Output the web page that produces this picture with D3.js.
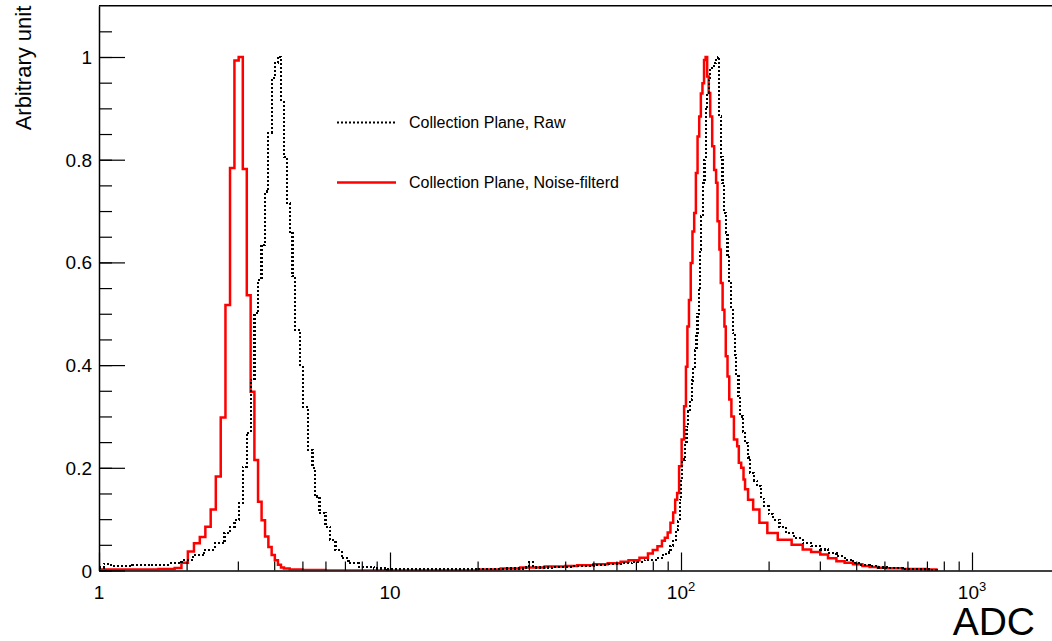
<!DOCTYPE html>
<html>
<head>
<meta charset="utf-8">
<script src="https://cdn.jsdelivr.net/npm/d3@7"></script>
<style>
  body { margin: 0; background: #fff; }
  svg { display: block; font-family: "Liberation Sans", Arial, Helvetica, sans-serif; }
</style>
</head>
<body>
<div class="container"></div>
<script>
// bin lower edges (ADC) and normalised bin contents
// pedestal / noise peak
const rawLowEdges = [1.0,1.04,1.1,1.3,1.5,1.75,1.92,2.1,2.3,2.5,2.7,2.82,2.92,3.02,3.12,3.22,3.32,3.42,3.52,3.62,3.72,3.82,3.92,4.02,4.12,4.22,4.32,4.42,4.52,4.62,4.72,4.92,5.02,5.22,5.42,5.52,5.72,6.0,6.22,6.5,6.82,7.2,7.8,8.8,9.8];
const rawLowValues = [0.006,0.013,0.008,0.01,0.011,0.014,0.02,0.03,0.04,0.053,0.073,0.085,0.098,0.131,0.202,0.268,0.371,0.501,0.566,0.634,0.738,0.852,0.959,0.988,1.0,0.913,0.806,0.716,0.657,0.573,0.468,0.397,0.319,0.235,0.2,0.144,0.112,0.085,0.059,0.04,0.024,0.014,0.007,0.004,0.002];
// signal peak
const rawHighEdges = [20,25,29,30,31,36,42,50,56,62,68,75,82,86,89,92,94,96,97.5,99,100,101,103,104.5,106,107.3,109,110.2,111.5,113,114,115,116,117.5,119,120.5,121.5,123,124.5,126,128,130,132,134,135.5,137,138.8,140.5,142.5,144.5,146.5,148.5,150.5,153,155,157.5,159.5,163,166,170,173,178,183,188,193,200,207,218,230,245,262,280,301,320,342,365,390,415,445,475,508,577,660,720,755];
const rawHighValues = [0.003,0.004,0.006,0.016,0.006,0.007,0.009,0.011,0.012,0.014,0.017,0.02,0.025,0.03,0.035,0.048,0.06,0.08,0.096,0.138,0.18,0.216,0.25,0.28,0.31,0.333,0.37,0.397,0.43,0.462,0.5,0.55,0.625,0.69,0.754,0.8,0.903,0.93,0.955,0.975,0.982,0.988,0.994,1.0,0.884,0.806,0.754,0.696,0.657,0.611,0.56,0.508,0.462,0.42,0.378,0.34,0.3,0.27,0.248,0.22,0.19,0.175,0.164,0.14,0.125,0.11,0.099,0.085,0.073,0.063,0.054,0.047,0.041,0.034,0.028,0.021,0.015,0.011,0.008,0.006,0.0045,0.003,0.002,0.001,0];

const filtLowEdges = [1.0,1.6,1.82,1.92,2.02,2.12,2.22,2.32,2.42,2.52,2.62,2.72,2.82,2.92,3.02,3.12,3.22,3.32,3.42,3.52,3.62,3.72,3.82,3.92,4.02,4.12,4.22,4.32,4.52,5.0,6.0];
const filtLowValues = [0.002,0.003,0.005,0.015,0.037,0.053,0.065,0.085,0.119,0.183,0.298,0.517,0.784,0.993,1.0,0.782,0.536,0.348,0.215,0.134,0.098,0.066,0.046,0.03,0.02,0.011,0.006,0.004,0.002,0.001,0];
const filtHighEdges = [20,24,28,34,40,44,50,56,62,66,72,77,80,83,86,88,90,92,94,95.5,97,98.5,100.5,102.5,104,105.2,106.5,108,109.5,111,112.5,114,115.5,117,118.5,120,121.5,123,124.5,126,128,130,132,133.5,135.5,137,139,141,142.5,144.5,146.5,149,152,156,158,161,164,166,170,177,186,198,215,240,262,280,301,320,342,365,390,420,445,475,508,577,660,700,755];
const filtHighValues = [0.002,0.004,0.006,0.008,0.009,0.01,0.012,0.014,0.017,0.02,0.025,0.033,0.04,0.047,0.058,0.064,0.074,0.093,0.113,0.138,0.151,0.203,0.255,0.32,0.397,0.475,0.527,0.599,0.66,0.696,0.774,0.845,0.884,0.929,0.949,0.994,1.0,0.962,0.93,0.884,0.826,0.78,0.755,0.68,0.625,0.56,0.508,0.475,0.417,0.378,0.333,0.3,0.255,0.242,0.21,0.2,0.177,0.158,0.138,0.119,0.093,0.073,0.06,0.05,0.041,0.036,0.031,0.024,0.018,0.015,0.012,0.009,0.007,0.0055,0.0045,0.003,0.003,0.002,0];

const seriesNames = ["Collection Plane, Raw", "Collection Plane, Noise-filterd"];
const xDomain = [1, 2000];
const xMajor = [1, 10, 100, 1000];
const xLabelBase = ["1", "10", "10", "10"];
const xLabelExp = ["", "", "2", "3"];
const yMajor = [0, 0.2, 0.4, 0.6, 0.8, 1];
const yLabels = ["0", "0.2", "0.4", "0.6", "0.8", "1"];

const width = 1052;
const height = 641;
const plotLeft = 99;
const plotBottom = 570.5;
const decade = 291;
const unitY = 513.5;

const svg = d3.select('.container')
    .append('svg')
    .attr('width', width)
    .attr('height', height);

const x = d3.scaleLog()
    .domain(xDomain)
    .range([plotLeft, plotLeft + decade * Math.log10(xDomain[1])]);
const y = d3.scaleLinear()
    .domain([0, 1.1])
    .range([plotBottom, plotBottom - unitY * 1.1]);

const plotTop = y(1.1);
const plotRight = x(xDomain[1]);

svg.append('clipPath').attr('id', 'plot')
    .append('rect')
    .attr('x', plotLeft).attr('y', plotTop)
    .attr('width', plotRight - plotLeft).attr('height', plotBottom - plotTop);

// histograms
const toPoints = (edges, values) => edges.map((e, i) => [e, values[i]]);
const rawPts = toPoints(rawLowEdges, rawLowValues).concat(toPoints(rawHighEdges, rawHighValues));
const filtPts = toPoints(filtLowEdges, filtLowValues).concat(toPoints(filtHighEdges, filtHighValues));

const step = d3.line()
    .x(d => x(d[0]))
    .y(d => y(d[1]))
    .curve(d3.curveStepAfter);

const hists = svg.append('g').attr('clip-path', 'url(#plot)');
hists.append('path')
    .attr('d', step(filtPts))
    .attr('fill', 'none')
    .attr('stroke', '#ff0000')
    .attr('stroke-width', 2.5);
hists.append('path')
    .attr('d', step(rawPts))
    .attr('fill', 'none')
    .attr('stroke', '#000')
    .attr('stroke-width', 2.2)
    .attr('stroke-dasharray', '2,2')
    .attr('shape-rendering', 'crispEdges');

// x axis
const xMinor = [];
xMajor.forEach(d => { for (let k = 2; k <= 9; k++) if (d * k <= xDomain[1]) xMinor.push(d * k); });

svg.append('g')
    .attr('transform', `translate(0,${plotBottom})`)
    .call(d3.axisBottom(x).tickValues(xMinor).tickSize(-9).tickSizeOuter(0).tickFormat(''))
    .call(g => g.select('.domain').remove());
svg.append('g')
    .attr('transform', `translate(0,${plotBottom})`)
    .call(d3.axisBottom(x).tickValues(xMajor).tickSize(-18).tickSizeOuter(0).tickFormat(''));

const xLab = svg.append('g')
    .selectAll('text')
    .data(xMajor)
    .enter()
    .append('text')
    .attr('x', d => x(d))
    .attr('y', 599)
    .attr('text-anchor', 'middle')
    .attr('font-size', 19);
xLab.append('tspan').text((d, i) => xLabelBase[i]);
xLab.append('tspan')
    .attr('dy', -8)
    .attr('font-size', 13)
    .text((d, i) => xLabelExp[i]);

// y axis
const yMinor = d3.range(0, 1.1, 0.05);
svg.append('g')
    .attr('transform', `translate(${plotLeft},0)`)
    .call(d3.axisLeft(y).tickValues(yMinor).tickSize(-13).tickSizeOuter(0).tickFormat(''))
    .call(g => g.select('.domain').remove());
svg.append('g')
    .attr('transform', `translate(${plotLeft},0)`)
    .call(d3.axisLeft(y).tickValues(yMajor).tickSize(-26).tickSizeOuter(0).tickFormat(''));

svg.append('g')
    .selectAll('text')
    .data(yMajor)
    .enter()
    .append('text')
    .attr('x', 92)
    .attr('y', d => y(d) + 7)
    .attr('text-anchor', 'end')
    .attr('font-size', 19)
    .text((d, i) => yLabels[i]);

// frame top
svg.append('line')
    .attr('class', 'frame')
    .attr('x1', plotLeft).attr('x2', plotRight)
    .attr('y1', plotTop).attr('y2', plotTop)
    .attr('stroke', '#000')
    .attr('stroke-width', 1.5);

svg.selectAll('.domain').attr('stroke-width', 1.5);
svg.selectAll('.tick line').attr('stroke-width', 1.2);

// axis titles
svg.append('text')
    .attr('transform', `translate(31,${plotTop}) rotate(-90)`)
    .attr('text-anchor', 'end')
    .attr('font-size', 22)
    .text('Arbitrary unit');

svg.append('text')
    .attr('x', 1035)
    .attr('y', 635)
    .attr('text-anchor', 'end')
    .attr('font-size', 39)
    .text('ADC');

// legend
const legend = svg.append('g');
const legendStyles = [
    { stroke: '#000', width: 2.2, dash: '2,2' },
    { stroke: '#ff0000', width: 2.5, dash: null }
];
legend.selectAll('line')
    .data(seriesNames)
    .enter()
    .append('line')
    .attr('x1', 337).attr('x2', 396)
    .attr('y1', (d, i) => 122.5 + i * 60)
    .attr('y2', (d, i) => 122.5 + i * 60)
    .attr('stroke', (d, i) => legendStyles[i].stroke)
    .attr('stroke-width', (d, i) => legendStyles[i].width)
    .attr('stroke-dasharray', (d, i) => legendStyles[i].dash);
legend.selectAll('text')
    .data(seriesNames)
    .enter()
    .append('text')
    .attr('x', 409)
    .attr('y', (d, i) => 128 + i * 60)
    .attr('font-size', 16)
    .attr('fill', '#000')
    .text(d => d);
</script>
</body>
</html>
